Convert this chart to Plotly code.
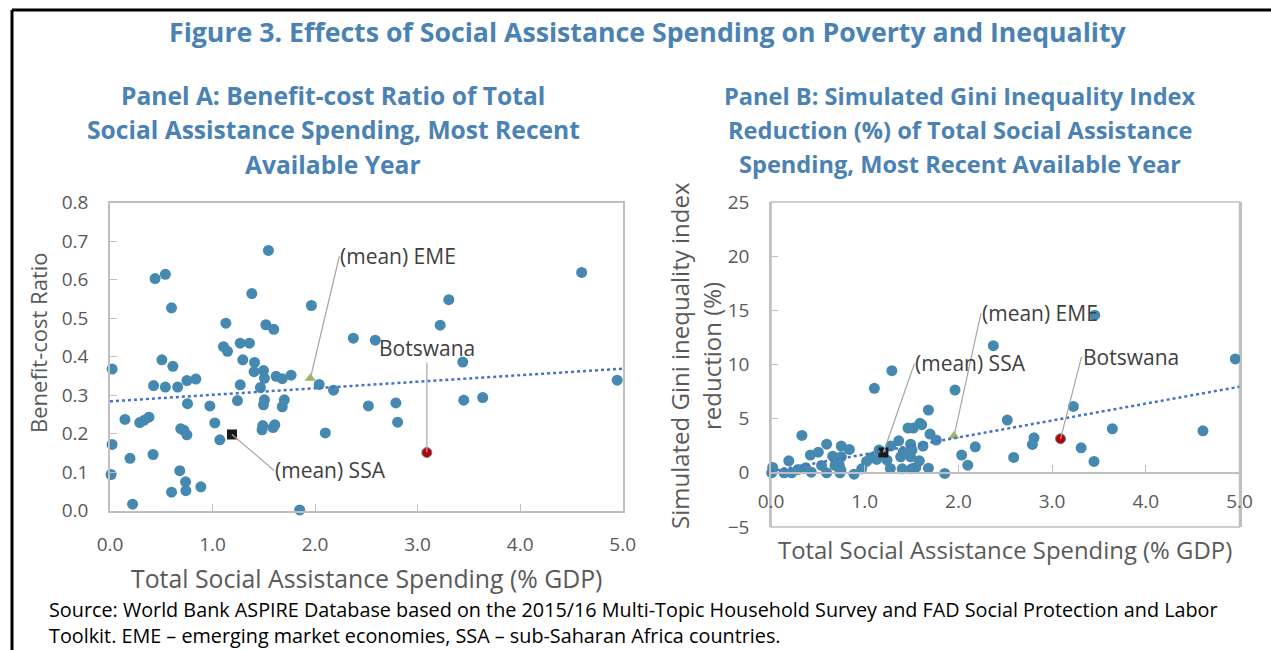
import plotly.graph_objects as go

W, H = 1271, 650

# ---------------- Panel A data ----------------
spend_a = [0.02, 0.02, 0.01, 0.22, 0.146, 0.195, 0.29, 0.334, 0.38, 0.44, 0.54, 0.60, 0.506, 0.613,
           0.425, 0.54, 0.66, 0.75, 0.837, 0.756, 0.42, 0.68, 0.737, 0.74, 0.60, 0.886, 0.69, 0.72,
           0.75, 0.974, 1.022, 1.071, 1.13, 1.107, 1.146, 1.27, 1.36, 1.295, 1.41, 1.405, 1.497,
           1.506, 1.27, 1.467, 1.243, 1.506, 1.497, 1.49, 1.483, 1.607, 1.59, 1.70, 1.68, 1.52,
           1.597, 1.383, 1.545, 1.964, 1.62, 1.68, 1.766, 2.04, 2.18, 2.10, 1.85, 2.373, 4.6,
           3.304, 3.22, 2.587, 3.44, 4.946, 2.52, 2.788, 2.805, 3.45, 3.635]
bcr_a = [0.368, 0.172, 0.094, 0.017, 0.237, 0.136, 0.229, 0.235, 0.243, 0.603, 0.614, 0.527, 0.392,
         0.375, 0.325, 0.321, 0.321, 0.338, 0.342, 0.278, 0.146, 0.104, 0.075, 0.052, 0.048, 0.062,
         0.213, 0.209, 0.197, 0.272, 0.228, 0.184, 0.487, 0.426, 0.414, 0.435, 0.435, 0.392, 0.385,
         0.361, 0.364, 0.344, 0.327, 0.32, 0.286, 0.288, 0.275, 0.221, 0.21, 0.223, 0.216, 0.288,
         0.27, 0.483, 0.471, 0.564, 0.676, 0.533, 0.349, 0.343, 0.352, 0.328, 0.313, 0.202, 0.002,
         0.448, 0.619, 0.548, 0.482, 0.443, 0.386, 0.339, 0.272, 0.28, 0.23, 0.287, 0.294]
trend_x_a = [0.0, 5.0]
trend_y_a = [0.284, 0.369]
ssa_a = (1.19, 0.198)
eme_a = (1.954, 0.344)
bots_a = (3.09, 0.151)

# ---------------- Panel B data ----------------
spend_b = [0.018, 0.007, 0.14, 0.19, 0.22, 0.29, 0.33, 0.37, 0.42, 0.43, 0.505, 0.54, 0.594, 0.594,
           0.658, 0.683, 0.736, 0.747, 0.75, 0.75, 0.729, 0.836, 0.886, 0.968, 1.02, 1.067, 1.103,
           1.128, 1.153, 1.238, 1.273, 1.277, 1.29, 1.363, 1.384, 1.4, 1.41, 1.462, 1.519, 1.49,
           1.49, 1.505, 1.5, 1.545, 1.59, 1.608, 1.583, 1.622, 1.68, 1.697, 1.68, 1.764, 1.854,
           1.964, 2.035, 2.10, 2.18, 2.373, 3.455, 4.955, 3.227, 2.522, 3.643, 4.61, 2.807, 2.79,
           2.59, 3.31, 3.447]
gini_b = [0.50, 0.0, 0.0, 1.11, 0.0, 0.31, 3.45, 0.46, 1.64, 0.06, 1.91, 0.68, 2.65, 0.0, 1.54, 0.68,
          0.0, 0.25, 2.47, 1.48, 0.68, 2.16, -0.12, 0.37, 1.05, 1.39, 7.8, 1.24, 2.1, 1.17, 0.41,
          2.47, 9.43, 2.96, 1.48, 0.37, 1.94, 4.13, 4.13, 2.65, 1.48, 2.1, 0.37, 0.5, 4.57, 4.44,
          1.11, 2.47, 5.8, 3.58, 0.43, 3.02, -0.06, 7.64, 1.64, 0.71, 2.4, 11.74, 14.55, 10.51,
          6.13, 4.87, 4.07, 3.88, 3.23, 2.62, 1.42, 2.31, 1.05]
trend_x_b = [0.0, 5.0]
trend_y_b = [0.15, 7.95]
ssa_b = (1.2, 1.88)
eme_b = (1.953, 3.39)
bots_b = (3.09, 3.14)

x_ticks = [0, 1, 2, 3, 4, 5]
x_tick_labels = ["0.0", "1.0", "2.0", "3.0", "4.0", "5.0"]
y_ticks_a = [0, 0.1, 0.2, 0.3, 0.4, 0.5, 0.6, 0.7, 0.8]
y_tick_labels_a = ["0.0", "0.1", "0.2", "0.3", "0.4", "0.5", "0.6", "0.7", "0.8"]
y_ticks_b = [-5, 0, 5, 10, 15, 20, 25]

BLUE = "#4689b0"
TITLE_BLUE = "#4a82b4"
GRAY_TXT = "#595959"
AX = "#bfbfbf"
FONT = "Open Sans"


def px(x):
    return x / W


def py(y):
    return 1 - y / H


fig = go.Figure()

for (sx, sy, xa, ya, tx, ty, ssa, eme, bots) in [
    (spend_a, bcr_a, "x", "y", trend_x_a, trend_y_a, ssa_a, eme_a, bots_a),
    (spend_b, gini_b, "x2", "y2", trend_x_b, trend_y_b, ssa_b, eme_b, bots_b),
]:
    fig.add_trace(go.Scatter(x=sx, y=sy, mode="markers", xaxis=xa, yaxis=ya,
                             marker=dict(color=BLUE, size=11, line=dict(width=0)),
                             showlegend=False, cliponaxis=False))
    fig.add_trace(go.Scatter(x=[ssa[0]], y=[ssa[1]], mode="markers", xaxis=xa, yaxis=ya,
                             marker=dict(color="#1a1a1a", size=10, symbol="square"),
                             showlegend=False))
    fig.add_trace(go.Scatter(x=[eme[0]], y=[eme[1]], mode="markers", xaxis=xa, yaxis=ya,
                             marker=dict(color="#9bbb59", size=10, symbol="triangle-up"),
                             showlegend=False))
    fig.add_trace(go.Scatter(x=[bots[0]], y=[bots[1]], mode="markers", xaxis=xa, yaxis=ya,
                             marker=dict(color="#c00000", size=10, line=dict(color=BLUE, width=1)),
                             showlegend=False))
    fig.add_trace(go.Scatter(x=tx, y=ty, mode="lines", xaxis=xa, yaxis=ya,
                             line=dict(color="#4472c4", width=2.5, dash="dot"),
                             showlegend=False))

tickfont = dict(family=FONT, size=19, color=GRAY_TXT)

fig.update_layout(
    width=W, height=H, margin=dict(l=0, r=0, t=0, b=0, autoexpand=False),
    paper_bgcolor="white", plot_bgcolor="white",
    font=dict(family=FONT, color=GRAY_TXT),
    xaxis=dict(domain=[px(110), px(622.7)], range=[0, 5], anchor="y", automargin=False,
               tickvals=x_ticks, ticktext=x_tick_labels, ticks="inside", ticklen=7,
               tickcolor=AX, showline=True, linecolor=AX, linewidth=1.5, mirror=True,
               showgrid=False, zeroline=False, tickfont=tickfont, ticklabelstandoff=16),
    yaxis=dict(domain=[py(510.7), py(202.7)], range=[0, 0.8], anchor="x", automargin=False,
               tickvals=y_ticks_a, ticktext=y_tick_labels_a, ticks="inside", ticklen=7,
               tickcolor=AX, showline=True, linecolor=AX, linewidth=1.5, mirror=True,
               showgrid=False, zeroline=False, tickfont=tickfont, ticklabelstandoff=16),
    xaxis2=dict(domain=[px(771), px(1239.5)], range=[0, 5], anchor="free", automargin=False,
                position=py(472.7),
                tickvals=x_ticks, ticktext=x_tick_labels, ticks="inside", ticklen=7,
                tickcolor=AX, showline=True, linecolor=AX, linewidth=1.5,
                showgrid=False, zeroline=False, tickfont=tickfont, ticklabelstandoff=12),
    yaxis2=dict(domain=[py(527), py(202)], range=[-5, 25], anchor="x2", automargin=False,
                tickvals=y_ticks_b, ticks="inside", ticklen=7,
                tickcolor=AX, showline=True, linecolor=AX, linewidth=1.5, mirror=True,
                showgrid=False, zeroline=False, tickfont=tickfont, ticklabelstandoff=16),
)

# panel B frame (top/bottom)
fig.add_shape(type="rect", xref="x2 domain", yref="y2 domain", x0=0, x1=1, y0=0, y1=1,
              line=dict(color=AX, width=1.5), layer="below")
# outer frame (left and top black lines)
fig.add_shape(type="line", xref="paper", yref="paper", x0=px(12), x1=px(12), y0=0, y1=py(10),
              line=dict(color="black", width=3))
fig.add_shape(type="line", xref="paper", yref="paper", x0=px(12), x1=1, y0=py(10), y1=py(10),
              line=dict(color="black", width=3))


def text(x, y, s, size, color=GRAY_TXT, bold=False, angle=0, xanchor="center", align="center"):
    fig.add_annotation(x=px(x), y=py(y), xref="paper", yref="paper", text=(f"<b>{s}</b>" if bold else s),
                       showarrow=False, xanchor=xanchor, yanchor="middle", textangle=angle,
                       align=align, font=dict(family=FONT, size=size, color=color))


text(648, 31, "Figure 3. Effects of Social Assistance Spending on Poverty and Inequality", 26.7, TITLE_BLUE, True)
for yy, s in zip([95, 130, 164], ["Panel A: Benefit-cost Ratio of Total",
                                  "Social Assistance Spending, Most Recent",
                                  "Available Year"]):
    text(333, yy, s, 24.6, TITLE_BLUE, True)
for yy, s in zip([96, 130, 164], ["Panel B: Simulated Gini Inequality Index",
                                  "Reduction (%) of Total Social Assistance",
                                  "Spending, Most Recent Available Year"]):
    text(960, yy, s, 23.6, TITLE_BLUE, True)

text(366, 578, "Total Social Assistance Spending (% GDP)", 24.8)
text(38, 343, "Benefit-cost Ratio", 22, angle=-90)
text(1005, 549, "Total Social Assistance Spending (% GDP)", 23.9)
text(679, 356, "Simulated Gini inequality index", 24, angle=-90)
text(711, 356, "reduction (%)", 24, angle=-90)

text(47, 622.5,
     "Source: World Bank ASPIRE Database based on the 2015/16 Multi-Topic Household Survey and FAD Social Protection and Labor"
     "<br>Toolkit. EME – emerging market economies, SSA – sub-Saharan Africa countries.",
     19.8, "#000000", xanchor="left", align="left")


def callout(xa, ya, pt, s, ax, ay, xanchor="left", yanchor="middle"):
    fig.add_annotation(x=pt[0], y=pt[1], xref=xa, yref=ya, text=s, showarrow=True,
                       arrowhead=0, arrowwidth=1.2, arrowcolor="#a6a6a6", ax=ax, ay=ay,
                       xanchor=xanchor, yanchor=yanchor, borderpad=0,
                       font=dict(family=FONT, size=21, color="#404040"))


callout("x", "y", eme_a, "(mean) EME", 29, -122)
callout("x", "y", ssa_a, "(mean) SSA", 42, 36)
callout("x", "y", bots_a, "Botswana", 0, -90, xanchor="center", yanchor="bottom")
callout("x2", "y2", eme_b, "(mean) EME", 27, -123)
callout("x2", "y2", ssa_b, "(mean) SSA", 31, -89)
callout("x2", "y2", bots_b, "Botswana", 21, -82)

fig.write_html("out.html")
